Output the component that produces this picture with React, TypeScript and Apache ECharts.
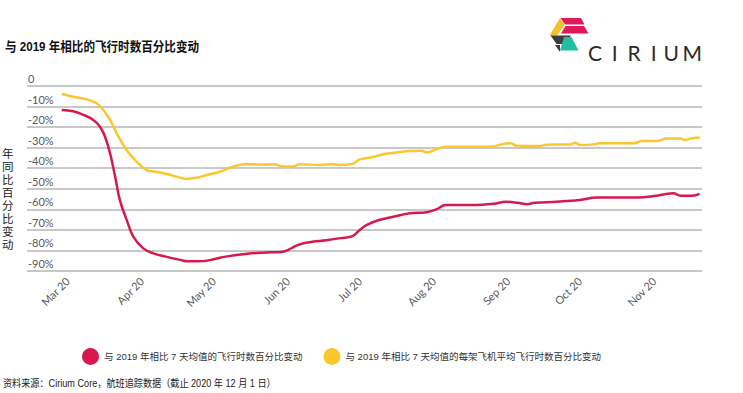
import React, { useEffect, useRef } from "react";
import * as echarts from "echarts";

// Day offsets are counted from 1 March 2020 (day 0).
const monthStartDays = [0, 31, 61, 92, 122, 153, 184, 214, 245];
const monthLabels = ["Mar 20", "Apr 20", "May 20", "Jun 20", "Jul 20", "Aug 20", "Sep 20", "Oct 20", "Nov 20"];

const yTicks = [0, -10, -20, -30, -40, -50, -60, -70, -80, -90];

const redName = "与 2019 年相比 7 天均值的飞行时数百分比变动";
const yellowName = "与 2019 年相比 7 天均值的每架飞机平均飞行时数百分比变动";

const redPoints: [number, number][] = [
  [-2.5, -11.7], [2.3, -12.3], [6.5, -14], [10.7, -16.5], [13.5, -19.8], [15.6, -24.7],
  [17.7, -32.7], [19.8, -44], [21.8, -55.5], [24.6, -65], [27.4, -73.3], [31.6, -79], [35.8, -81.4],
  [41, -83], [47, -84.6], [50, -85.3], [57, -85.1], [61, -84.3], [66, -83], [75, -81.6],
  [83, -81], [90, -80.6], [96, -77.4], [101, -76], [108, -75], [114, -74], [119, -73],
  [122, -70], [125, -67.6], [130, -65.2], [136, -63.6], [143, -61.9], [150, -61.4],
  [154, -60], [158, -57.9], [169, -57.9], [178, -57.3], [183, -56.3], [188, -56.8],
  [192, -57.5], [195, -56.8], [200, -56.6], [208, -56], [214, -55.5], [221, -54.2],
  [238, -54.2], [245, -53.5], [250, -52.5], [253, -52.2], [256, -53.4], [261, -53.4], [264, -52.5],
];

const yellowPoints: [number, number][] = [
  [-2.5, -3.9], [2.3, -5.2], [7.9, -6.5], [12.1, -8.4], [14.9, -11.7], [17.7, -16.5], [20.5, -23],
  [24.6, -31.1], [28.8, -36.8], [33, -40.9], [36.5, -41.7], [41.4, -42.8], [45.5, -44.1], [49.7, -45.2],
  [53.9, -44.6], [58.1, -43.3], [63.6, -41.7], [69.2, -39.2], [74.8, -37.9], [80, -38.2], [86, -38.1],
  [90, -39.2], [94, -39.2], [97, -38.1], [105, -38.4], [110, -37.9], [114, -38.4], [119, -37.9],
  [122, -35.7], [128, -34.4], [132, -33.2], [137, -32.4], [143, -31.6], [148, -31.5],
  [150, -32.3], [154, -30.8], [158, -29.5], [169, -29.5], [178, -29.4], [181, -28.4],
  [185, -27.9], [188, -29.2], [197, -29.2], [200, -28.6], [210, -28.4], [212, -27.6],
  [214, -28.7], [220, -28.4], [222, -27.9], [236, -27.9], [240, -26.8], [247, -26.6],
  [250, -25.6], [256, -25.6], [258, -26.3], [260, -25.6], [264, -25],
];

const titleText = "与 2019 年相比的飞行时数百分比变动";
const yAxisTitle = "年同比百分比变动";
const sourceText = "资料来源：Cirium Core，航班追踪数据（截止 2020 年 12 月 1 日）";
const brandLetters = ["C", "I", "R", "I", "U", "M"];

const RED = "#d8194f";
const YELLOW = "#fcc62d";
const CJK = "'Liberation Sans Narrow', 'Liberation Sans', 'Noto Sans CJK SC', sans-serif";

export default function App() {
  const ref = useRef<HTMLDivElement>(null);

  useEffect(() => {
    if (!ref.current) return;
    const chart = echarts.init(ref.current, undefined, { renderer: "svg" });
    const yTitleEls = yAxisTitle.split("").map((ch, i) => ({
      type: "text",
      x: 2,
      y: 148 + i * 13,
      style: {
        text: ch,
        fontSize: 11.5,
        lineHeight: 11.5,
        fill: "#222222",
        fontFamily: "'Liberation Sans', 'Noto Sans CJK SC', sans-serif",
      },
    }));
    const brandX = [595, 614.7, 634, 653.7, 671.3, 692.2];
    const brandEls = brandLetters.map((ch, i) => ({
      type: "text",
      x: brandX[i],
      y: 52.5,
      style: {
        text: ch,
        fontSize: 21,
        lineHeight: 21,
        fontWeight: "normal",
        fill: "#2b2b2b",
        fontFamily: "Lato, sans-serif",
        align: "center",
        verticalAlign: "middle",
      },
    }));
    const option: any = {
      animation: false,
      backgroundColor: "#ffffff",
      grid: { left: 27, right: 41, top: 86, bottom: 122, outerBoundsMode: "none" },
      xAxis: {
        type: "value",
        min: -17,
        max: 265,
        axisLine: { show: false },
        axisTick: { show: false },
        splitLine: { show: false },
        axisLabel: {
          customValues: monthStartDays,
          formatter: (v: number) => monthLabels[monthStartDays.indexOf(v)] ?? "",
          rotate: 45,
          margin: 8,
          color: "#595959",
          fontSize: 11,
          fontFamily: "Lato, sans-serif",
        },
      },
      yAxis: {
        type: "value",
        min: -90,
        max: 0,
        interval: 10,
        axisLine: { show: false },
        axisTick: { show: false },
        splitLine: { lineStyle: { color: "#c8c8c8", width: 2 } },
        axisLabel: {
          inside: true,
          margin: 1,
          align: "left",
          verticalAlign: "bottom",
          padding: [0, 0, 2, 0],
          color: "#595959",
          fontSize: 11,
          fontFamily: "Lato, sans-serif",
          formatter: (v: number) => (yTicks.includes(v) ? (v === 0 ? "0" : v + "%") : ""),
        },
      },
      legend: {
        left: 77,
        top: 343,
        icon: "circle",
        itemWidth: 17,
        itemHeight: 17,
        itemGap: 21,
        textStyle: { fontSize: 9.5, color: "#333333", fontFamily: CJK },
        data: [redName, yellowName],
      },
      series: [
        {
          name: redName,
          type: "line",
          data: redPoints,
          showSymbol: false,
          smooth: 0.4,
          lineStyle: { color: RED, width: 2.5 },
          itemStyle: { color: RED },
        },
        {
          name: yellowName,
          type: "line",
          data: yellowPoints,
          showSymbol: false,
          smooth: 0.4,
          lineStyle: { color: YELLOW, width: 2.5 },
          itemStyle: { color: YELLOW },
        },
      ],
      graphic: [
        {
          type: "text",
          x: 5,
          y: 40,
          scaleX: 0.89,
          style: { text: titleText, fontSize: 13, fontWeight: "bold", fill: "#111111", fontFamily: CJK },
        },
        ...yTitleEls,
        {
          type: "text",
          x: 3,
          y: 378,
          scaleX: 0.87,
          style: { text: sourceText, fontSize: 10.5, fill: "#222222", fontFamily: CJK },
        },
        // Logo mark
        { type: "polygon", shape: { points: [[560, 18], [564.5, 25], [557, 35.5], [549.5, 35.5]] }, style: { fill: "#f8be2b" } },
        { type: "polygon", shape: { points: [[560.5, 18], [581, 18], [584.5, 24.5], [565, 24.5]] }, style: { fill: "#e0195a" } },
        { type: "polygon", shape: { points: [[565.5, 26], [584, 26], [588.5, 33.5], [561, 33.5]] }, style: { fill: "#e0195a" } },
        { type: "polygon", shape: { points: [[550.5, 35.5], [571, 35.5], [565, 44], [556.5, 44]] }, style: { fill: "#3d3d3d" } },
        { type: "polygon", shape: { points: [[555, 45], [560, 45], [560, 52]] }, style: { fill: "#3d3d3d" } },
        { type: "polygon", shape: { points: [[564, 37], [571.5, 37], [578.5, 50.5], [560, 50.5]] }, style: { fill: "#1fbfa0" } },
        ...brandEls,
      ],
    };
    chart.setOption(option);
    return () => chart.dispose();
  }, []);

  return (
    <div
      ref={ref}
      style={{ position: "fixed", left: 0, top: 0, width: 743, height: 393, background: "#fff" }}
    />
  );
}
